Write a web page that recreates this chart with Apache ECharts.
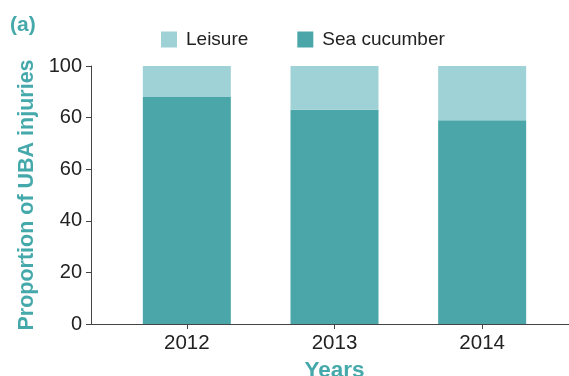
<!DOCTYPE html>
<html>
<head>
<meta charset="utf-8">
<script src="https://cdn.jsdelivr.net/npm/echarts@6/dist/echarts.min.js"></script>
<style>
  html, body { margin: 0; padding: 0; background: #ffffff; }
  #chart { width: 569px; height: 376px; }
</style>
</head>
<body>
<div id="chart"></div>
<script>
// Share of UBA injuries per year, split by activity
const years = ['2012', '2013', '2014'];
const seaCucumber = [88, 83, 79];
const leisure = [12, 17, 21];
const yTickLabels = ['0', '20', '40', '60', '60', '100'];

const teal = '#4aa6a9';
const lightTeal = '#9fd2d6';
const titleTeal = '#45a9ab';
const fontFamily = 'Liberation Sans, Arial, sans-serif';

const chart = echarts.init(document.getElementById('chart'));
chart.setOption({
  animation: false,
  backgroundColor: '#ffffff',
  textStyle: { fontFamily: fontFamily },
  title: {
    text: '(a)',
    left: 5,
    top: 10,
    textStyle: { color: titleTeal, fontSize: 21, fontWeight: 'bold', fontFamily: fontFamily }
  },
  legend: {
    left: 156,
    top: 25,
    itemWidth: 16,
    itemHeight: 16,
    itemGap: 49,
    icon: 'rect',
    textStyle: { fontSize: 19, color: '#222222', fontFamily: fontFamily, padding: [0, 0, 0, 4] },
    data: ['Leisure', 'Sea cucumber']
  },
  grid: [
    { left: 113, right: 13, top: 66, bottom: 52, outerBoundsMode: 'none', containLabel: false },
    { left: 91, right: 0, top: 66, bottom: 52, outerBoundsMode: 'none', containLabel: false }
  ],
  xAxis: [
    {
      type: 'category',
      gridIndex: 0,
      data: years,
      axisLine: { show: false },
      axisTick: { show: true, alignWithLabel: true, length: 5, lineStyle: { color: '#444444' } },
      axisLabel: { color: '#222222', fontSize: 20.5, margin: 9, fontFamily: fontFamily },
      name: 'Years',
      nameLocation: 'middle',
      nameGap: 35,
      nameTextStyle: { color: titleTeal, fontSize: 22.5, fontWeight: 'bold', fontFamily: fontFamily }
    },
    {
      type: 'value',
      gridIndex: 1,
      min: 0,
      max: 1,
      axisLine: { show: true, lineStyle: { color: '#444444', width: 1 } },
      axisTick: { show: false },
      axisLabel: { show: false },
      splitLine: { show: false }
    }
  ],
  yAxis: [
    {
      type: 'value',
      gridIndex: 0,
      min: 0,
      max: 100,
      interval: 20,
      offset: 22,
      axisLine: { show: true, lineStyle: { color: '#444444', width: 1 } },
      axisTick: { show: true, length: 5, lineStyle: { color: '#444444' } },
      axisLabel: {
        color: '#222222',
        fontSize: 20,
        margin: 9,
        fontFamily: fontFamily,
        formatter: function (v) { return yTickLabels[Math.round(v / 20)]; }
      },
      splitLine: { show: false },
      name: 'Proportion of UBA injuries',
      nameLocation: 'middle',
      nameGap: 53,
      nameTextStyle: { color: titleTeal, fontSize: 21.5, fontWeight: 'bold', fontFamily: fontFamily }
    },
    {
      type: 'value',
      gridIndex: 1,
      show: false
    }
  ],
  series: [
    {
      name: 'Sea cucumber',
      type: 'bar',
      stack: 'total',
      xAxisIndex: 0,
      yAxisIndex: 0,
      barWidth: 88,
      itemStyle: { color: teal },
      data: seaCucumber
    },
    {
      name: 'Leisure',
      type: 'bar',
      stack: 'total',
      xAxisIndex: 0,
      yAxisIndex: 0,
      barWidth: 88,
      itemStyle: { color: lightTeal },
      data: leisure
    }
  ]
});
</script>
</body>
</html>
